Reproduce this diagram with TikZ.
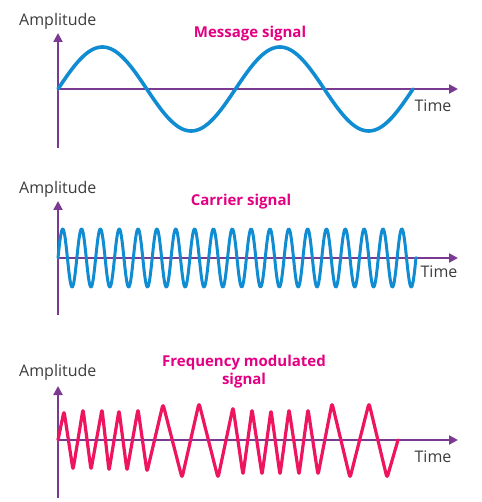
\documentclass[tikz,border=0pt]{standalone}
\usepackage{fontspec}
\setmainfont{Open Sans}
\usetikzlibrary{arrows.meta}

\definecolor{axiscol}{RGB}{123,58,146}
\definecolor{msgblue}{RGB}{16,140,210}
\definecolor{titlepink}{RGB}{228,0,130}
\definecolor{fmpink}{RGB}{238,20,95}
\definecolor{labelgray}{RGB}{60,60,60}

\tikzset{
  axis/.style={line width=2pt, axiscol, -{Triangle[length=9pt,width=9pt]}},
  axisnoarrow/.style={line width=2pt, axiscol},
  lbl/.style={text=labelgray, font=\fontsize{16}{18}\selectfont, inner sep=0pt},
  ttl/.style={text=titlepink, font=\fontsize{15}{18}\selectfont\bfseries, inner sep=0pt, align=center},
  wave/.style={line width=3.6pt, msgblue, line join=round, line cap=round},
}

\begin{document}
\begin{tikzpicture}[x=1pt,y=-1pt]
\useasboundingbox (0,0) rectangle (481,502);

% message signal
\coordinate (o1) at (58,89);
\coordinate (ytop1) at (58,33);
\coordinate (ybot1) at (58,148);
\coordinate (xend1) at (458,89);
\draw[axisnoarrow] (ybot1) -- (o1);
\draw[axis] (o1) -- (ytop1);
\draw[axis] (o1) -- (xend1);
\draw[wave] plot[domain=58:413,samples=200] (\x,{89-42*sin((\x-58)/177.5*360)});
\node[lbl, anchor=west] (amp1) at (19,21) {Amplitude};
\node[ttl] (title1) at (250,34) {Message signal};
\node[lbl] (time1) at (433,106) {Time};

% carrier signal
\coordinate (o2) at (58,258);
\coordinate (ytop2) at (58,201);
\coordinate (ybot2) at (58,315);
\coordinate (xend2) at (458,258);
\draw[axisnoarrow] (ybot2) -- (o2);
\draw[axis] (o2) -- (ytop2);
\draw[axis] (o2) -- (xend2);
\draw[wave, line width=3pt] plot[domain=58:416,samples=800] (\x,{258-29*sin((\x-58)/18.84*360)});
\node[lbl, anchor=west] (amp2) at (19,189) {Amplitude};
\node[ttl] (title2) at (241,202) {Carrier signal};
\node[lbl] (time2) at (439,272) {Time};

% frequency modulated signal
\coordinate (o3) at (58,440);
\coordinate (ytop3) at (58,386);
\coordinate (ybot3) at (58,498);
\coordinate (xend3) at (458,440);
\draw[axisnoarrow] (ybot3) -- (o3);
\draw[axis] (o3) -- (ytop3);
\draw[axis] (o3) -- (xend3);
\draw[wave, fmpink, line width=3.2pt, rounded corners=3pt] (o3) -- (64,411) -- (73,470) -- (83,409) -- (91,470)
  -- (102,409) -- (109,471) -- (119,410) -- (127,471) -- (138,409) -- (147,472)
  -- (163,404) -- (182,478) -- (199,403) -- (218,478) -- (233,407) -- (243,475)
  -- (252,409) -- (262,475) -- (271,410) -- (280,475) -- (289,409) -- (299,475)
  -- (308,409) -- (318,475) -- (332,403) -- (350,478) -- (369,403) -- (387,478)
  -- (398,440);
\node[lbl, anchor=west] (amp3) at (19,372) {Amplitude};
\node[ttl] (title3) at (244,372) {Frequency modulated\\signal};
\node[lbl] (time3) at (433,457) {Time};
\end{tikzpicture}
\end{document}
